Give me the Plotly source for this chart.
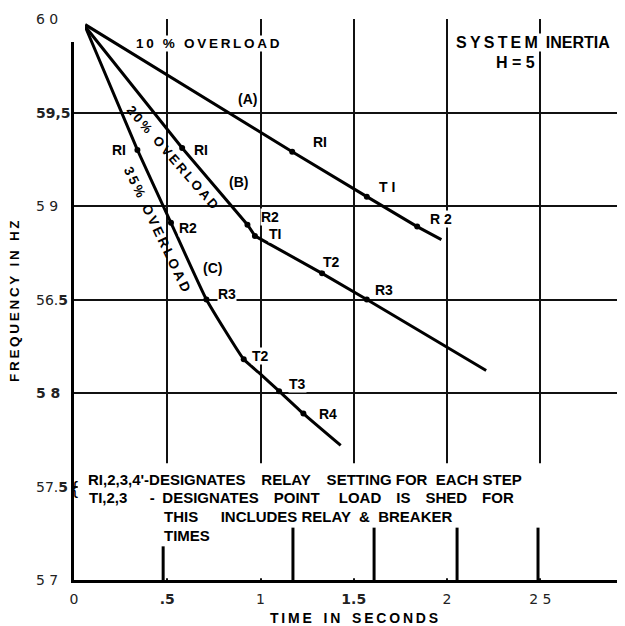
import plotly.graph_objects as go

# ---- data ----
a_time = [0.06, 1.17, 1.57, 1.84, 1.97]
a_freq = [59.97, 59.29, 59.05, 58.89, 58.82]
a_marks = ["R1", "T1", "R2"]
a_mark_time = [1.17, 1.57, 1.84]
a_mark_freq = [59.29, 59.05, 58.89]

b_time = [0.06, 0.58, 0.93, 0.97, 1.33, 1.57, 2.21]
b_freq = [59.96, 59.31, 58.90, 58.84, 58.64, 58.50, 58.12]
b_marks = ["R1", "R2", "T1", "T2", "R3"]
b_mark_time = [0.58, 0.93, 0.97, 1.33, 1.57]
b_mark_freq = [59.31, 58.90, 58.84, 58.64, 58.50]

c_time = [0.06, 0.34, 0.52, 0.71, 0.91, 0.99, 1.10, 1.23, 1.43]
c_freq = [59.96, 59.30, 58.91, 58.50, 58.18, 58.11, 58.01, 57.89, 57.72]
c_marks = ["R1", "R2", "R3", "T2", "T3", "R4"]
c_mark_time = [0.34, 0.52, 0.71, 0.91, 1.10, 1.23]
c_mark_freq = [59.30, 58.91, 58.50, 58.18, 58.01, 57.89]

x_tick_vals = [0, 0.5, 1, 1.5, 2, 2.5]
x_tick_text = ["0", "<b>.5</b>", "1", "<b>1.5</b>", "2", "2 5"]
y_tick_vals = [57, 57.5, 58, 58.5, 59, 59.5, 60]
y_tick_text = ["5 7", "57.<b>5</b>", "<b>5 8</b>", "56.<b>5</b>", "5 9", "<b>59,5</b>", "6 0"]

# breaker/relay time ticks at the bottom of the chart
lower_tick_x = [0.478, 1.174, 1.609, 2.054, 2.488]

FONT = "Liberation Sans"
TS = "\u2009"  # thin space for letter spacing
EN = "\u2002"  # en space for word gaps


def spaced(s):
    return TS.join(list(s))


# page is offset by 8px body margin; size so it fits the 625x626 window
W, H = 617, 618
ML, MT, PW, PH = 66, 11, 551, 561


def px_x(sx):  # screen x -> paper
    return (sx - 8 - ML) / PW


def px_y(sy):  # screen y -> paper
    return 1 - (sy - 8 - MT) / PH


fig = go.Figure()

for t, f, shape in [(a_time, a_freq, "linear"), (b_time, b_freq, "linear"), (c_time, c_freq, "spline")]:
    fig.add_trace(go.Scatter(x=t, y=f, mode="lines",
                             line=dict(color="black", width=3, shape=shape, smoothing=0.4),
                             showlegend=False, hoverinfo="skip"))
for mt, mf, names in [(a_mark_time, a_mark_freq, a_marks), (b_mark_time, b_mark_freq, b_marks),
                      (c_mark_time, c_mark_freq, c_marks)]:
    fig.add_trace(go.Scatter(x=mt, y=mf, mode="markers", marker=dict(color="black", size=6),
                             text=names, showlegend=False, hoverinfo="text"))

# mask grid behind the note block, then the bottom tick segments
shapes = [
    dict(type="rect", xref="x", yref="y", x0=0.02, x1=2.96, y0=57.01, y1=57.625,
         fillcolor="white", line=dict(width=0), layer="above"),
    dict(type="rect", xref="paper", yref="paper", x0=-0.01, x1=px_x(85), y0=px_y(42), y1=1.02,
         fillcolor="white", line=dict(width=0), layer="above"),
]
for i, xv in enumerate(lower_tick_x):
    shapes.append(dict(type="line", xref="x", yref="y", x0=xv, x1=xv,
                       y0=57.0, y1=57.18 if i == 0 else 57.28,
                       line=dict(color="black", width=3), layer="above"))


def lab(x, y, text, size=14, angle=0, bg="white"):
    return dict(x=x, y=y, xref="x", yref="y", text="<b>" + text + "</b>", showarrow=False,
                font=dict(family=FONT, size=size, color="black"), textangle=angle,
                bgcolor=bg, borderpad=0)


ann = [
    lab(0.72, 59.87, spaced("10 % OVERLOAD"), 13.5),
    lab(2.46, 59.875, spaced("SYSTEM") + EN + "INERTIA", 16),
    lab(2.365, 59.77, "H = 5", 16),
    lab(0.93, 59.57, "(A)", 14),
    lab(0.88, 59.13, "(B)", 14),
    lab(0.745, 58.67, "(C)", 14),
    lab(0.53, 59.262, spaced("20% OVERLOAD"), 13, 49, None),
    lab(0.445, 58.872, spaced("35% OVERLOAD"), 13.5, 64.5, None),
    lab(1.32, 59.34, "RI"), lab(1.68, 59.10, "T I"), lab(1.97, 58.93, "R 2"),
    lab(0.68, 59.30, "RI"), lab(1.05, 58.94, "R2"), lab(1.08, 58.85, "TI"),
    lab(1.38, 58.70, "T2"), lab(1.66, 58.55, "R3"),
    lab(0.24, 59.30, "RI"), lab(0.61, 58.88, "R2"), lab(0.82, 58.53, "R3"),
    lab(1.00, 58.20, "T2"), lab(1.20, 58.05, "T3"), lab(1.36, 57.89, "R4"),
]
notes = [
    (0.064, 57.535, "RI,2,3,4'-DESIGNATES" + EN + "  RELAY" + EN + "  SETTING FOR  EACH STEP"),
    (0.068, 57.44, "TI,2,3" + EN * 3 + "-" + EN + "DESIGNATES" + EN * 2 + "POINT" + EN * 2 + " "
     + "LOAD" + EN * 2 + "IS" + EN * 2 + "SHED" + EN * 2 + "FOR"),
    (0.472, 57.34, "THIS" + EN * 3 + "INCLUDES RELAY  &  BREAKER"),
    (0.472, 57.24, "TIMES"),
]
for x, y, t in notes:
    ann.append(dict(x=x, y=y, xref="x", yref="y", text="<b>" + t + "</b>", showarrow=False,
                    xanchor="left", yanchor="middle", font=dict(family=FONT, size=15, color="black")))
ann.append(dict(x=0.008, y=57.49, xref="x", yref="y", text="{", showarrow=False,
                font=dict(family=FONT, size=18, color="black")))
# y tick labels (left aligned as in the original)
for v, t in zip(y_tick_vals, y_tick_text):
    ann.append(dict(x=px_x(34), y=v, xref="paper", yref="y", text=t, showarrow=False,
                    xanchor="left", yanchor="middle",
                    font=dict(family="DejaVu Sans", size=14, color="#222")))
# axis titles
ann.append(dict(x=px_x(14), y=px_y(301), xref="paper", yref="paper",
                text="<b>" + spaced("FREQUENCY IN HZ") + "</b>", textangle=-90, showarrow=False,
                xanchor="center", yanchor="middle", font=dict(family=FONT, size=13.5, color="black")))
ann.append(dict(x=px_x(354), y=px_y(618), xref="paper", yref="paper",
                text="<b>" + spaced("TIME") + "   " + spaced("IN") + "   " + spaced("SECONDS") + "</b>",
                showarrow=False, xanchor="center", yanchor="middle",
                font=dict(family=FONT, size=14, color="black")))

fig.update_layout(
    width=W, height=H, margin=dict(l=ML, r=W - ML - PW, t=MT, b=H - MT - PH),
    paper_bgcolor="white", plot_bgcolor="white",
    shapes=shapes, annotations=ann,
    xaxis=dict(range=[0, PW / 186.5], tickvals=x_tick_vals, ticktext=x_tick_text,
               showgrid=True, gridcolor="#111", gridwidth=1.5, zeroline=False,
               showline=True, linecolor="black", linewidth=3, ticks="", ticklabelstandoff=4,
               tickfont=dict(family="DejaVu Sans", size=14, color="#222")),
    yaxis=dict(range=[57, 60], tickvals=y_tick_vals, showticklabels=False,
               showgrid=True, gridcolor="#111", gridwidth=1.5, zeroline=False,
               showline=True, linecolor="black", linewidth=3, ticks=""),
)
fig.write_html("out.html")
